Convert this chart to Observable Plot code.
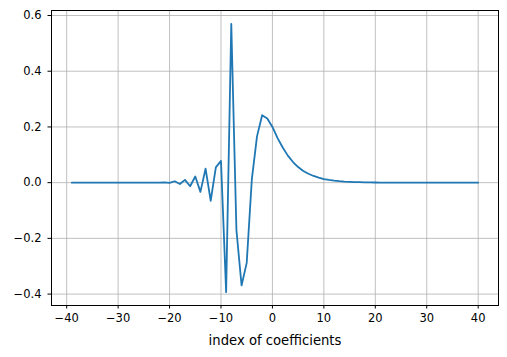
<!DOCTYPE html>
<html>
<head>
<meta charset="utf-8">
<script src="https://cdn.jsdelivr.net/npm/d3@7"></script>
<script src="https://cdn.jsdelivr.net/npm/@observablehq/plot@0.6"></script>
<style>
  html, body { margin: 0; padding: 0; background: white; }
  svg text { font-family: "DejaVu Sans", sans-serif; }
  g[aria-label$="tick label"], g[aria-label$="tick label"] text { font-size: 11.5px !important; }
</style>
</head>
<body>
<div id="chart"></div>
<script>
const indices = d3.range(-39, 41);
const coefficients = [
  0, 0, 0, 0, 0, 0, 0, 0, 0, 0, 0, 0, 0, 0, 0, 0, 0, 0,
  0.001, -0.001, 0.005, -0.005, 0.010, -0.013, 0.022, -0.033, 0.050, -0.065,
  0.055, 0.078, -0.393, 0.570, -0.17, -0.369, -0.288, 0.013, 0.166, 0.242,
  0.230, 0.200,
  0.160, 0.126, 0.097, 0.074, 0.056, 0.042, 0.032, 0.024, 0.018, 0.013,
  0.010, 0.0075, 0.0055, 0.004, 0.003, 0.0022, 0.0016, 0.0012, 0.0009, 0.0006,
  0, 0, 0, 0, 0, 0, 0, 0, 0, 0, 0, 0, 0, 0, 0, 0, 0, 0, 0, 0
];
const xTicks = [-40, -30, -20, -10, 0, 10, 20, 30, 40];
const yTicks = [-0.4, -0.2, 0.0, 0.2, 0.4, 0.6];
const xLabel = "index of coefficients";

const data = indices.map((x, i) => ({x, y: coefficients[i]}));
const minus = s => s.replace("-", "\u2212");

const chart = Plot.plot({
  width: 507,
  height: 357,
  marginLeft: 51,
  marginRight: 9,
  marginTop: 10,
  marginBottom: 52,
  style: {fontFamily: "DejaVu Sans", fontSize: "11.5px", background: "white", color: "black"},
  x: {
    domain: [-42.95, 43.95],
    ticks: xTicks,
    tickFormat: d => minus(String(d)),
    tickSize: 3.5,
    tickPadding: 5,
    label: null
  },
  y: {
    domain: [-0.441, 0.618],
    ticks: yTicks,
    tickFormat: d => minus(d3.format(".1f")(d)),
    tickSize: 3.5,
    tickPadding: 6.5,
    label: null
  },
  marks: [
    Plot.ruleX(xTicks, {stroke: "#b0b0b0", strokeWidth: 0.8}),
    Plot.ruleY(yTicks, {stroke: "#b0b0b0", strokeWidth: 0.8}),
    Plot.line(data, {x: "x", y: "y", stroke: "#1f77b4", strokeWidth: 1.8}),
    Plot.frame({stroke: "black", strokeWidth: 1}),
    Plot.text([xLabel], {frameAnchor: "bottom", dy: 35.7, lineAnchor: "middle", text: d => d, fontSize: 13.2, fontFamily: "DejaVu Sans"})
  ]
});
document.getElementById("chart").appendChild(chart);
</script>
</body>
</html>
